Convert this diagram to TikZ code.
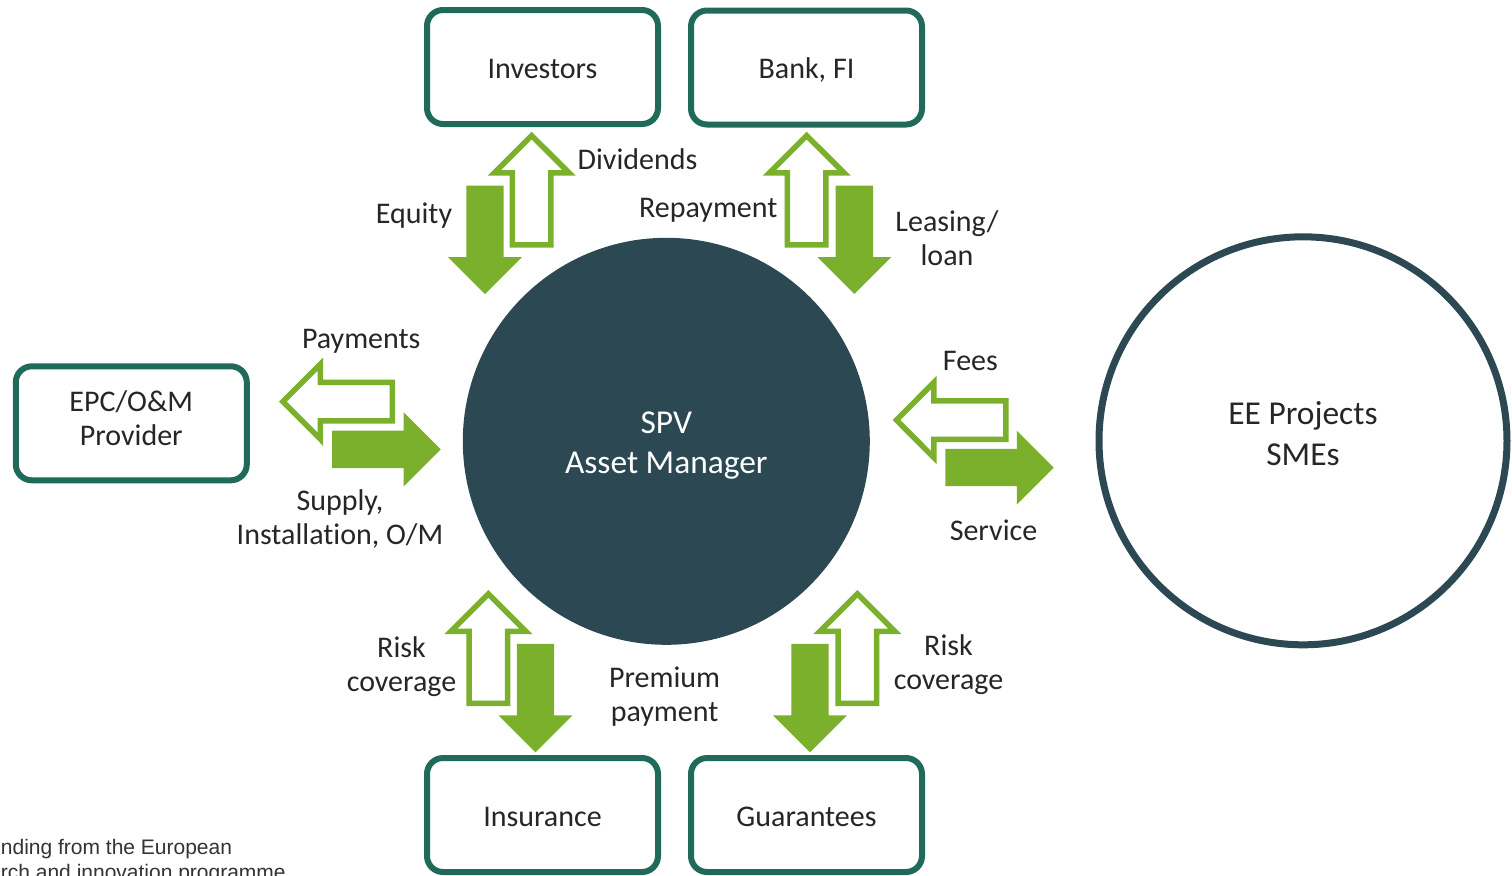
\documentclass[tikz,border=0pt]{standalone}
\usepackage{fontspec}
\setmainfont{Carlito}[Ligatures={NoCommon,NoContextual}, Contextuals=NoAlternate]
\newfontfamily\footfont{Liberation Sans}
\definecolor{arrowgreen}{HTML}{7AB02B}
\definecolor{boxgreen}{HTML}{1F6A5A}
\definecolor{spvblue}{HTML}{2C4853}
\definecolor{textgray}{HTML}{262626}
\definecolor{footgray}{HTML}{333333}
\newcommand\lblfont{\fontsize{15}{16.8}\selectfont}
\begin{document}
\begin{tikzpicture}[x=0.5pt,y=-0.5pt,
  partybox/.style={draw=boxgreen, line width=3pt, rounded corners=8pt,
    minimum width=115.5pt, minimum height=57pt, inner sep=0pt, fill=white,
    font=\lblfont, text=textgray, text height=11pt, text depth=0pt, align=center},
  lbl/.style={font=\lblfont, text=textgray, align=center, anchor=base, inner sep=0pt},
  footlbl/.style={font=\footfont\fontsize{10.5}{12.5}\selectfont, text=footgray, anchor=base west, inner sep=0pt},
  solidarrow/.pic={\fill[arrowgreen] (0,0) -- (37,37) -- (18.7,37) -- (18.7,108.5)
      -- (-18.7,108.5) -- (-18.7,37) -- (-37,37) -- cycle;},
  hollowarrow/.pic={\draw[arrowgreen, line width=2.75pt, fill=white, line join=miter]
      (0,3.9) -- (37.4,41.25) -- (19.25,41.25) -- (19.25,113.25)
      -- (-19.25,113.25) -- (-19.25,41.25) -- (-37.4,41.25) -- cycle;}]
\path[use as bounding box] (0,0) rectangle (1512,875);
\clip (0,0) rectangle (1512,875);

% parties
\node[partybox] (inv) at (542.5,67) {Investors};
\node[partybox] (bank) at (806.5,67.5) {Bank, FI};
\node[partybox, text height=21.7pt, text depth=0pt, font=\fontsize{15}{16.7}\selectfont] (epc) at (131.3,423.3) {EPC/O\&M\\Provider};
\node[partybox] (ins) at (542.5,815) {Insurance};
\node[partybox] (guar) at (806.5,815) {Guarantees};

\node[circle, fill=spvblue, minimum size=203.5pt, inner sep=0pt, text=white,
  font=\fontsize{16.7}{20}\selectfont, align=center, text height=32pt, text depth=0pt]
  (spv) at (666.3,441.3) {SPV\\Asset Manager};
\node[circle, draw=spvblue, line width=3.5pt, minimum size=204pt, inner sep=0pt, text=textgray,
  font=\fontsize{16.7}{20.5}\selectfont, align=center, text height=24.2pt, text depth=0pt]
  (ee) at (1303,440.8) {EE Projects\\SMEs};

% block arrows
\pic[rotate=180] at (485,294) {solidarrow};
\pic at (531.7,131.7) {hollowarrow};
\pic at (806.7,131.7) {hollowarrow};
\pic[rotate=180] at (854.3,294) {solidarrow};
\pic[rotate=90] at (279,401.7) {hollowarrow};
\pic[rotate=-90] at (440.7,449.3) {solidarrow};
\pic[rotate=90] at (892.5,420) {hollowarrow};
\pic[rotate=-90] at (1053.75,467.5) {solidarrow};
\pic at (488.4,590) {hollowarrow};
\pic[rotate=180] at (535.5,752.3) {solidarrow};
\pic[rotate=180] at (810,752.3) {solidarrow};
\pic at (857.3,590) {hollowarrow};

% flow labels (base = baseline of the last line)
\node[lbl] (ldiv) at (637.5,169.3) {Dividends};
\node[lbl] (lequ) at (414,223) {Equity};
\node[lbl] (lrep) at (708.3,217.3) {Repayment};
\node[lbl] (llea) at (947,265) {Leasing/\\loan};
\node[lbl] (lpay) at (361.2,348.3) {Payments};
\node[lbl] (lsup) at (340,544) {Supply,\\Installation, O/M};
\node[lbl] (lfee) at (970.4,370.7) {Fees};
\node[lbl] (lser) at (993.5,540.7) {Service};
\node[lbl] (lrisk1) at (401.5,691) {Risk\\coverage};
\node[lbl] (lprem) at (664.6,721.5) {Premium\\payment};
\node[lbl] (lrisk2) at (948.5,689) {Risk\\coverage};

% cropped footnote
\node[footlbl] (foot1) at (0.5,854.3) {nding from the European};
\node[footlbl] (foot2) at (0.5,879.5) {rch and innovation programme};
\end{tikzpicture}
\end{document}
